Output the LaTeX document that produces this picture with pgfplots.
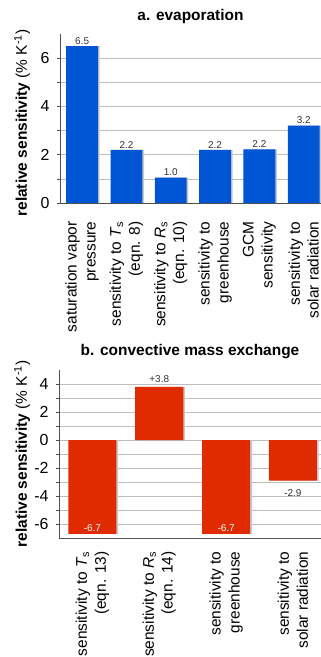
\documentclass[border=0pt]{standalone}
\usepackage{pgfplots}
\pgfplotsset{compat=1.18}
\usepackage{fontspec}
\setmainfont{Liberation Sans}
\definecolor{barblue}{HTML}{0055D4}
\definecolor{barred}{HTML}{E02A00}
\definecolor{gridgray}{HTML}{BEBEBE}
\definecolor{axgray}{HTML}{505050}
\definecolor{valgray}{HTML}{333333}
\definecolor{shadowgray}{HTML}{C8C8C8}
\pgfplotsset{
  common/.style={
    scale only axis,
    anchor=south west,
    ybar,
    bar width=0.72,
    axis x line*=bottom,
    axis y line*=left,
    axis line style={axgray, line width=0.8bp},
    grid=both,
    major grid style={gridgray, line width=0.7bp},
    minor grid style={gridgray, line width=0.7bp},
    xmajorgrids=false, xminorgrids=false,
    minor y tick num=1,
    tick align=outside,
    major tick length=3bp,
    minor tick length=3bp,
    tick style={axgray, line width=0.6bp},
    xtick style={draw=none},
    xtick=data,
    /pgf/number format/assume math mode=true,
    yticklabel style={font=\fontsize{16}{19}\selectfont, xshift=-4bp},
    xticklabel style={font=\fontsize{15.5}{19}\selectfont, rotate=90, anchor=east, align=right},
    ylabel={\textbf{relative sensitivity} (\% K\textsuperscript{-1})},
    title style={font=\bfseries\fontsize{15.5}{19}\selectfont, anchor=center, at={(rel axis cs:0.5,1)}, yshift=12bp},
    axis on top=false,
    nodes near coords style={font=\fontsize{10}{12}\selectfont, text=valgray, inner sep=1.5bp},
  }
}
\begin{document}
\begin{tikzpicture}
\path[use as bounding box] (0,0) rectangle (321bp,657bp);
% ---------- panel a ----------
\begin{axis}[common,
  at={(60bp,454bp)},
  width=261bp, height=169bp,
  xmin=-0.5, xmax=5.39,
  ymin=0, ymax=7,
  ytick={0,2,4,6},
  title={a. evaporation},
  ylabel style={font=\fontsize{15.5}{19}\selectfont, at={(axis description cs:-0.145,0.473)}, anchor=center},
  xticklabel style={xshift=-12bp},
  xticklabels={{saturation vapor\\pressure},
               {sensitivity to \textit{T}\textsubscript{s}\\(eqn. 8)},
               {sensitivity to \textit{R}\textsubscript{s}\\(eqn. 10)},
               {sensitivity to\\greenhouse},
               {GCM\\sensitivity},
               {sensitivity to\\solar radiation}},
]
\addplot[fill=shadowgray, draw=none, bar shift=1.6bp] coordinates {(0,6.5) (1,2.2) (2,1.05) (3,2.2) (4,2.22) (5,3.2)};
\addplot[fill=barblue, draw=none, bar shift=0pt,
  nodes near coords, point meta=explicit symbolic]
  coordinates {(0,6.5)[6.5] (1,2.2)[2.2] (2,1.05)[1.0] (3,2.2)[2.2] (4,2.22)[2.2] (5,3.2)[3.2]};
\end{axis}
% ---------- panel b ----------
\begin{axis}[common,
  at={(59bp,119bp)},
  width=262bp, height=168bp,
  xmin=-0.5, xmax=3.42,
  ymin=-7, ymax=5,
  ytick={-6,-4,-2,0,2,4},
  title={b. convective mass exchange},
  ylabel style={font=\fontsize{15.5}{19}\selectfont, at={(axis description cs:-0.141,0.5)}, anchor=center},
  xticklabel style={xshift=-7bp},
  xticklabels={{sensitivity to \textit{T}\textsubscript{s}\\(eqn. 13)},
               {sensitivity to \textit{R}\textsubscript{s}\\(eqn. 14)},
               {sensitivity to\\greenhouse},
               {sensitivity to\\solar radiation}},
]
\addplot[fill=shadowgray, draw=none, bar shift=1.6bp] coordinates {(0,-6.7) (1,3.8) (2,-6.7) (3,-2.9)};
\addplot[fill=barred, draw=none, bar shift=0pt] coordinates {(0,-6.7) (1,3.8) (2,-6.7) (3,-2.9)};
\addplot[draw=none, fill=none, bar shift=0pt,
  nodes near coords, point meta=explicit symbolic,
  nodes near coords style={anchor=south, yshift=3bp}]
  coordinates {(1,3.8)[+3.8]};
\addplot[draw=none, fill=none, bar shift=0pt,
  nodes near coords, point meta=explicit symbolic,
  nodes near coords style={anchor=north, yshift=-7bp}]
  coordinates {(3,-2.9)[-2.9]};
\addplot[draw=none, fill=none, bar shift=0pt,
  nodes near coords, point meta=explicit symbolic,
  nodes near coords style={anchor=south, text=white, yshift=1bp}]
  coordinates {(0,-6.7)[-6.7] (2,-6.7)[-6.7]};
\end{axis}
\end{tikzpicture}
\end{document}
